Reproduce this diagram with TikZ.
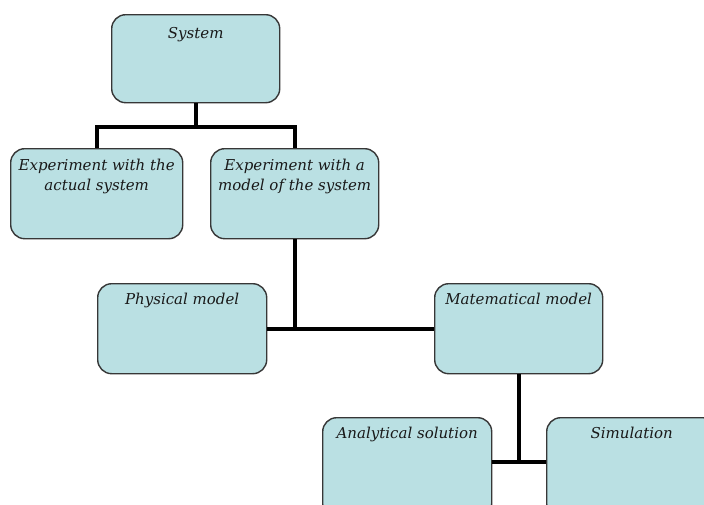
\documentclass[tikz,border=0pt]{standalone}
\usepackage{fontspec}
\setmainfont{DejaVu Serif}
\definecolor{boxfill}{RGB}{186,224,227}
\definecolor{boxline}{RGB}{55,55,55}
\begin{document}
\begin{tikzpicture}[x=1pt,y=-1pt,
  box/.style={draw=boxline, fill=boxfill, line width=1.4pt, rounded corners=14pt, anchor=north west, inner sep=0pt},
  txt/.style={anchor=north, inner sep=0pt, align=center, text=black!90, font=\fontsize{15}{20}\selectfont\itshape},
  conn/.style={line width=4pt, black}]
\useasboundingbox (0,0) rectangle (704,504);
\clip (0,0) rectangle (704,504);
\fill[white] (0,0) rectangle (704,504);
\node[box, minimum width=168pt, minimum height=88pt] (sys) at (111,14) {};
\node[box, minimum width=172pt, minimum height=90pt] (act) at (10,148) {};
\node[box, minimum width=168pt, minimum height=90pt] (mod) at (210,148) {};
\node[box, minimum width=169pt, minimum height=90pt] (phy) at (97,283) {};
\node[box, minimum width=168pt, minimum height=90pt] (mat) at (434,283) {};
\node[box, minimum width=169pt, minimum height=100pt] (ana) at (322,417) {};
\node[box, minimum width=170pt, minimum height=100pt] (sim) at (546,417) {};
\coordinate (j1) at (sys.south |- 0,127);
\coordinate (j3) at (mat.south |- 0,462);
\draw[conn] (sys.south) -- (j1);
\draw[conn] (act.north) |- (j1) -| (mod.north);
\draw[conn] (mod.south) -- (mod.south |- phy.east);
\draw[conn] (phy.east) -- (phy.east -| mat.west);
\draw[conn] (mat.south) -- (j3);
\draw[conn] (ana.east |- j3) -- (sim.west |- j3);
\node[txt] (tsys) at ([yshift=-13pt]sys.north) {System};
\node[txt] (tact) at ([yshift=-11pt]act.north) {Experiment with the\\actual system};
\node[txt] (tmod) at ([yshift=-11pt]mod.north) {Experiment with a\\model of the system};
\node[txt] (tphy) at ([yshift=-10pt]phy.north) {Physical model};
\node[txt] (tmat) at ([yshift=-10pt]mat.north) {Matematical model};
\node[txt] (tana) at ([yshift=-10pt]ana.north) {Analytical solution};
\node[txt] (tsim) at ([yshift=-10pt]sim.north) {Simulation};
\end{tikzpicture}
\end{document}
